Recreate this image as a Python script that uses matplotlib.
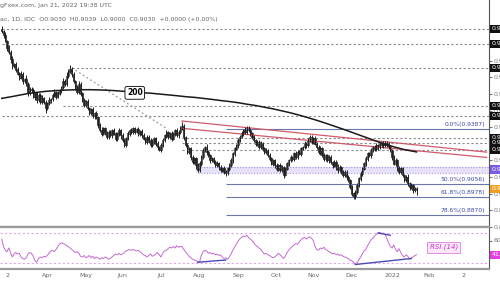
import matplotlib.pyplot as plt
import numpy as np
import pandas as pd

# daily closes, Feb 24 2021 .. Jan 21 2022
close = [0.9976, 0.9952, 0.9918, 0.9875, 0.9851, 0.9808, 0.9765, 0.9779, 0.9746, 0.9722, 0.9698,
         0.9717, 0.9678, 0.9690, 0.9659, 0.9606, 0.9630,
         0.9621, 0.9582, 0.9602, 0.9563, 0.9592, 0.9554,
         0.9573, 0.9549, 0.9515, 0.9544, 0.9563,
         0.9568, 0.9592, 0.9611, 0.9582, 0.9602, 0.9621,
         0.9640, 0.9678, 0.9659, 0.9707, 0.9736, 0.9750,
         0.9717, 0.9678, 0.9640, 0.9611, 0.9659, 0.9602,
         0.9563, 0.9534, 0.9554, 0.9515, 0.9486, 0.9506, 0.9467, 0.9486, 0.9458,
         0.9410, 0.9381,
         0.9360, 0.9390, 0.9370, 0.9340, 0.9370, 0.9350, 0.9380, 0.9360, 0.9330, 0.9360, 0.9380, 0.9350, 0.9320, 0.9295, 0.9330,
         0.9360, 0.9380, 0.9370, 0.9390, 0.9370, 0.9385, 0.9360, 0.9375, 0.9350,
         0.9330, 0.9310, 0.9340, 0.9320, 0.9290, 0.9310, 0.9330, 0.9300, 0.9280, 0.9265, 0.9290,
         0.9320, 0.9350, 0.9370, 0.9340, 0.9360, 0.9330, 0.9360, 0.9380, 0.9350, 0.9370, 0.9390, 0.9405,
         0.9340, 0.9290, 0.9250, 0.9270, 0.9220, 0.9190, 0.9210, 0.9170, 0.9140,
         0.9180, 0.9220, 0.9260, 0.9280, 0.9250, 0.9230, 0.9200, 0.9210,
         0.9190, 0.9170, 0.9180, 0.9160, 0.9140, 0.9150, 0.9130, 0.9125, 0.9150, 0.9170,
         0.9200, 0.9240, 0.9270, 0.9290, 0.9320, 0.9340, 0.9360, 0.9380, 0.9370, 0.9395, 0.9380,
         0.9360, 0.9340, 0.9320, 0.9300, 0.9310, 0.9280,
         0.9300, 0.9270, 0.9250, 0.9260, 0.9230,
         0.9210, 0.9180, 0.9200, 0.9170, 0.9150, 0.9170, 0.9140, 0.9160, 0.9115, 0.9150,
         0.9180, 0.9200, 0.9220, 0.9210, 0.9240, 0.9220, 0.9250, 0.9240, 0.9270,
         0.9280, 0.9300, 0.9290, 0.9320, 0.9340, 0.9310, 0.9330, 0.9300,
         0.9280, 0.9250, 0.9270, 0.9230, 0.9210, 0.9230, 0.9200, 0.9220,
         0.9190, 0.9170, 0.9190, 0.9160, 0.9140, 0.9160, 0.9130, 0.9110, 0.9130, 0.9100, 0.9080,
         0.9040, 0.9000, 0.8980, 0.9010, 0.9050, 0.9090,
         0.9120, 0.9150, 0.9180, 0.9210, 0.9240, 0.9230, 0.9260, 0.9280, 0.9270,
         0.9290, 0.9280, 0.9300, 0.9290, 0.9305, 0.9290, 0.9300, 0.9280,
         0.9260, 0.9220, 0.9180, 0.9200, 0.9150, 0.9130, 0.9150,
         0.9110, 0.9080, 0.9100, 0.9060, 0.9040, 0.9050,
         0.9020, 0.9020, 0.9030]
first_open = 0.9990

# wick lengths above / below the body, in 0.001
up_wick = [1.5,1.0,2.0,0.8,1.6,1.2,2.2,0.9,1.1,1.8, 0.7,1.9,1.3,0.8,2.1,1.0,1.4,0.9,1.7,1.2,
           0.8,1.5,1.1,2.0,0.9,1.3,0.7,1.8,1.0,1.2, 1.6,0.8,1.4,1.1,0.9,1.7,1.3,2.2,1.5,2.4,
           1.0,1.2,0.8,1.6,1.9,1.1,0.7,1.3,1.0,1.5, 0.9,1.2,1.6,0.8,1.1,0.9,1.4,1.8,1.0,1.3,
           0.7,1.5,1.2,0.9,1.6,1.1,0.8,1.3,1.0,1.4, 1.2,0.9,1.5,1.1,1.3,0.8,1.2,1.0,1.4,0.9,
           1.1,1.3,0.8,1.5,1.0,1.2,1.6,0.9,1.1,1.4, 0.8,1.2,1.5,1.0,1.3,0.9,1.1,1.6,1.2,0.8,
           1.4,1.0,1.7,1.9,1.2,0.9,1.3,1.1,0.8,1.5, 1.0,1.2,1.4,1.8,1.1,1.3,0.9,1.6,1.2,1.0,
           1.3,0.8,1.1,1.5,0.9,1.2,1.0,1.4,1.1,0.8, 1.5,1.2,1.0,1.3,0.9,1.6,1.1,1.4,1.0,1.8,
           1.2,0.9,1.3,1.1,1.5,0.8,1.2,1.0,1.4,1.1, 0.9,1.3,1.0,1.6,1.2,0.8,1.1,1.4,1.0,1.2,
           1.5,0.9,1.3,1.1,1.0,1.4,0.8,1.2,1.6,1.0, 1.3,1.1,0.9,1.5,1.2,1.7,1.0,1.3,1.1,1.4,
           0.9,1.2,1.5,1.0,1.3,0.8,1.1,1.4,1.2,0.9, 1.3,1.0,1.6,1.1,0.9,1.4,1.2,1.0,1.5,1.1,
           1.3,0.9,1.2,1.6,1.0,1.4,1.1,1.3,1.8,1.2, 1.0,1.4,0.9,1.2,1.5,1.1,1.3,1.0,1.2,0.9,
           1.6,1.1,1.3,1.0,1.4,1.2,0.9,1.5,1.1,1.3, 1.0,1.2,1.8,1.1,1.4,1.0,2.2,0.9]
dn_wick = [1.2,1.8,0.9,1.5,1.1,2.0,1.3,0.8,1.6,1.0, 1.4,0.9,1.7,1.2,1.0,1.9,1.1,1.3,0.8,1.6,
           1.5,1.0,1.2,1.4,1.1,3.2,1.3,0.9,1.6,1.0, 1.2,1.4,0.8,1.1,1.5,0.9,1.2,1.0,1.3,0.8,
           1.6,1.1,1.4,0.9,1.2,1.7,1.0,1.3,1.5,0.9, 1.1,1.4,1.0,1.6,1.2,1.8,1.0,1.3,0.9,1.5,
           1.1,1.2,1.0,1.6,0.9,1.3,1.1,1.4,1.9,1.0, 1.2,1.5,0.9,1.1,1.3,1.0,1.4,0.8,1.2,1.1,
           1.5,0.9,1.3,1.0,1.6,1.2,0.8,1.4,1.1,1.8, 1.0,1.3,0.9,1.2,1.5,1.1,1.0,1.4,0.8,1.2,
           1.1,1.3,1.0,0.9,1.5,1.2,1.4,1.0,1.6,1.1, 1.3,1.9,1.2,1.0,1.4,0.9,1.1,1.5,1.2,1.3,
           1.0,1.4,1.1,0.9,1.6,1.2,1.0,1.3,1.8,1.1, 1.2,0.9,1.4,1.1,1.0,1.3,1.2,0.8,1.5,1.1,
           1.3,1.0,1.2,1.4,0.9,1.1,1.5,1.2,1.0,1.3, 1.1,1.4,0.9,1.2,1.0,1.6,1.3,1.1,1.4,1.0,
           1.2,1.8,1.1,0.9,1.3,1.0,1.5,1.2,1.1,1.4, 0.9,1.2,1.0,1.3,1.5,1.1,0.8,1.4,1.2,1.0,
           1.3,1.1,1.6,1.0,1.2,1.4,0.9,1.3,1.1,1.5, 1.2,2.0,1.4,1.1,1.3,1.0,1.2,1.5,0.9,1.1,
           1.4,1.0,1.3,1.2,0.9,1.5,1.1,1.0,1.3,1.2, 1.1,1.4,1.0,1.3,1.2,1.6,0.9,1.1,1.4,1.0,
           1.2,1.3,1.1,1.5,1.0,1.2,1.4,0.9,1.3,1.1, 1.2,1.0,1.4,1.6,1.1,1.3,1.2,3.0]

# 200-day moving average, one value per 5 bars (last one at the final bar)
ma200 = [0.9573, 0.9582, 0.9592, 0.9602, 0.9609, 0.9615, 0.9619, 0.9622, 0.9624, 0.9625,
         0.9625, 0.9624, 0.9622, 0.9619, 0.9615, 0.9611, 0.9607, 0.9604, 0.9599, 0.9594,
         0.9589, 0.9583, 0.9579, 0.9573, 0.9567, 0.9560, 0.9554, 0.9547, 0.9538, 0.9530,
         0.9520, 0.9510, 0.9498, 0.9486, 0.9472, 0.9457, 0.9441, 0.9424, 0.9406, 0.9388,
         0.9369, 0.9350, 0.9331, 0.9312, 0.9294, 0.9279, 0.9265, 0.9255, 0.9251]

rsi = [62,52,47,45,50,44,38,42,44,42, 43,38,36,35,37,42,44,43,39,33,
       31,36,38,37,39,38,40,43,46,47, 45,48,52,55,57,56,55,53,52,50,
       48,46,44,45,43,39,38,40,37,38, 40,37,39,36,38,37,35,37,36,38,
       37,35,36,38,40,42,41,43,41,42, 44,46,47,48,47,48,47,46,47,45,
       43,41,40,38,40,42,39,40,42,44, 41,38,43,46,47,49,51,50,52,50,
       53,51,52,52,48,45,42,39,37,35, 34,33,32,31,40,45,47,46,43,44,
       42,43,41,42,40,41,38,36,37,35, 38,42,47,51,55,59,62,64,66,65,
       67,64,62,60,57,54,52,50,48,45, 42,43,41,40,38,37,38,40,43,41,
       39,36,39,44,47,50,52,54,56,55, 58,61,63,64,62,64,65,63,60,52,
       48,47,50,49,51,48,47,45,44,42, 43,41,42,40,41,39,38,37,36,34,
       33,31,29,30,34,38,42,46,48,53, 57,61,63,66,68,70,71,69,70,68,
       63,57,52,50,54,48,45,49,44,40, 38,41,39,35,37,38,40,41]

levels = [0.9990, 0.9900, 0.9756, 0.9528, 0.9468, 0.9336, 0.9306, 0.9264]
level_start = [0, 0, 40, 35, 0, 103, 103, 103]
fib_names = ["0.0%", "50.0%", "61.8%", "78.6%"]
fib_prices = [0.9387, 0.9056, 0.8978, 0.8870]
zone = [0.9126, 0.9162]
trend_x = [40, 94]
trend_y = [0.9756, 0.9393]
chan_x = [103, 277]
chan_top = [0.9437, 0.9250]
chan_bot = [0.9393, 0.9218]
div1_x, div1_y = [112, 128], [31, 34]
div2_x, div2_y = [202, 234], [28, 36]
div3_x, div3_y = [215, 222], [70, 67]
month_labels = ["2", "Apr", "May", "Jun", "Jul", "Aug", "Sep", "Oct", "Nov", "Dec", "2022", "Feb", "2"]
last_price = 0.9030
last_rsi = 41.2

n = len(close)
idx = np.arange(n)
opens = np.array([first_open] + close[:-1])
closes = np.array(close)
highs = np.maximum(opens, closes) + np.array(up_wick) / 1000
lows = np.minimum(opens, closes) - np.array(dn_wick) / 1000

days = pd.bdate_range("2021-02-24", "2022-03-31")
firsts = [i for i in range(1, len(days)) if days[i].month != days[i - 1].month]

fig = plt.figure(figsize=(5, 3), dpi=100)
ax = fig.add_axes([0, 73 / 300, 489 / 500, 227 / 300])
ar = fig.add_axes([0, 31 / 300, 489 / 500, 42 / 300], sharex=ax)

grey = "#8a8a8a"
for y, s in zip(levels, level_start):
    ax.hlines(y, s, 290, color=grey, lw=0.8, ls=(0, (2, 2)))
ax.plot(trend_x, trend_y, color="#9a9a9a", lw=0.9, ls=(0, (1.5, 2)))
ax.axhspan(zone[0], zone[1], xmin=0.40, color="#e6e0f8", lw=0)
for y in zone:
    ax.hlines(y, 112, 290, color="#a894e0", lw=0.8, ls=(0, (1, 1.5)))

for name, p in zip(fib_names, fib_prices):
    ax.hlines(p, 128, 290, color="#6a76ac", lw=0.8)
    ax.text(276, p + 0.0012, f"{name}({p:.4f})", color="#3b48a8", fontsize=4.3,
            ha="right", va="bottom")

ax.plot(chan_x, chan_top, color="#d05a6a", lw=0.9)
ax.plot(chan_x, chan_bot, color="#d05a6a", lw=0.9)
ax.vlines(chan_x[0], chan_bot[0], chan_top[0], color="#d05a6a", lw=0.9)

ma_x = list(range(0, n - 2, 5)) + [n - 1]
ax.plot(ma_x, ma200, color="#1a1a1a", lw=1.1)
ax.text(76, 0.9606, "200", fontsize=5.5, ha="center", va="center", fontweight="bold",
        bbox=dict(boxstyle="round,pad=0.25", fc="white", ec="#222", lw=0.7))

up = closes >= opens
ax.vlines(idx, lows, highs, color="#222", lw=0.7)
ax.bar(idx, np.abs(closes - opens) + 0.0002, bottom=np.minimum(opens, closes), width=0.8,
       color=np.where(up, "white", "#222"), edgecolor="#222", lw=0.5)

ax.set_xlim(-1, 278.4)
ax.set_ylim(0.8802, 1.0164)
ax.yaxis.tick_right()
ax.set_yticks(np.arange(0.88, 1.005, 0.01))
ax.yaxis.set_major_formatter(plt.FormatStrFormatter("%.4f"))
ax.tick_params(axis="y", labelsize=4.5, colors="#777", length=2, pad=1)
ax.tick_params(axis="x", bottom=False, labelbottom=False)
for sp in ["top", "left"]:
    ax.spines[sp].set_visible(False)
ax.spines["bottom"].set_color("#9a9a9a")
ax.spines["bottom"].set_linewidth(1.6)
ax.spines["right"].set_color("#555")

tr = ax.get_yaxis_transform()
for y in levels:
    ax.text(1.005, y, f"{y:.4f}", transform=tr, fontsize=4.5, color="white", va="center",
            ha="left", bbox=dict(boxstyle="square,pad=0.25", fc="#111", ec="none"))
ax.text(1.005, np.mean(zone), f"{np.mean(zone):.4f}", transform=tr, fontsize=4.5, color="white",
        va="center", ha="left", bbox=dict(boxstyle="square,pad=0.3", fc="#7b5ce0", ec="none"))
ax.text(1.005, last_price, f"{last_price:.4f}", transform=tr, fontsize=4.5, color="white",
        va="center", ha="left", bbox=dict(boxstyle="square,pad=0.25", fc="#f0a020", ec="none"))

fig.text(0.0, 1 - 6 / 300, "gFxex.com, Jan 21, 2022 19:38 UTC", fontsize=4.5, color="#666",
         va="center")
fig.text(0.0, 1 - 19 / 300, "ac, 1D, IDC  O0.9030  H0.9039  L0.9000  C0.9030  +0.0000 (+0.00%)",
         fontsize=4.5, color="#666", va="center")

# RSI panel
ar.plot(idx, rsi, color="#c46ad2", lw=0.7)
for lv in [70, 30]:
    ar.axhline(lv, color="#e2a6e6", lw=0.8, ls=(0, (2, 2)))
for dx, dy in [(div1_x, div1_y), (div2_x, div2_y), (div3_x, div3_y)]:
    ar.plot(dx, dy, color="#4b4bb8", lw=1.0)
ar.text(252.5, 51, "RSI (14)", fontsize=5, color="#cc33cc", ha="center", va="center",
        fontstyle="italic",
        bbox=dict(boxstyle="square,pad=0.3", fc="#fbe8fb", ec="#df80df", lw=0.6))
ar.set_ylim(22, 78)
ar.yaxis.tick_right()
ar.set_yticks([40, 60])
ar.tick_params(axis="y", labelsize=4.5, colors="#777", length=2, pad=1)
ar.text(1.005, last_rsi, f"{last_rsi:.2f}", transform=ar.get_yaxis_transform(), fontsize=4.5,
        color="white", va="center", ha="left",
        bbox=dict(boxstyle="square,pad=0.25", fc="#e040e0", ec="none"))
ar.spines["left"].set_visible(False)
for sp in ["top", "bottom"]:
    ar.spines[sp].set_color("#9a9a9a")
    ar.spines[sp].set_linewidth(1.6)
ar.spines["right"].set_color("#555")
ar.set_xticks(firsts[:len(month_labels)])
ar.set_xticklabels(month_labels)
ar.tick_params(axis="x", labelsize=4.5, colors="#666", length=0, pad=3)
ar.set_xlim(-1, 278.4)

fig.savefig("out.png", dpi=100)
